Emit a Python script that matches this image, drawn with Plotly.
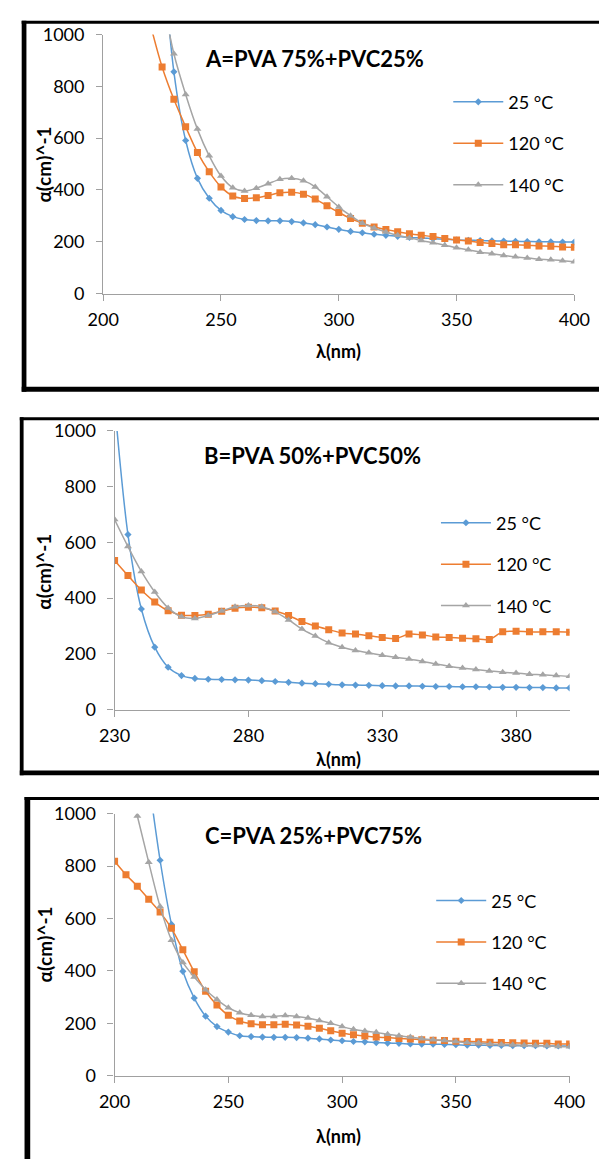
import plotly.graph_objects as go

W, H = 615, 1169


def px(x):
    return x / W


def py(y):
    return 1 - y / H


# ---------------- Panel A: PVA 75% + PVC 25% ----------------
wl_a = [225, 230, 235, 240, 245, 250, 255, 260, 265, 270, 275, 280, 285, 290, 295,
        300, 305, 310, 315, 320, 325, 330, 335, 340, 345, 350, 355, 360, 365, 370,
        375, 380, 385, 390, 395, 400]
wl_a_120 = [220] + wl_a
a_25 = [1350, 856, 591, 445, 368, 321, 297, 286, 282, 281, 281, 278, 273, 266, 257,
        248, 240, 235, 229, 225, 221, 217, 215, 212, 210, 207, 206, 205, 204, 203,
        202, 201, 200, 200, 199, 199]
a_120 = [1040, 875, 750, 644, 545, 470, 412, 377, 367, 370, 379, 389, 391, 384, 365,
         339, 313, 290, 272, 257, 247, 239, 231, 225, 220, 213, 207, 203, 197, 193,
         189, 189, 187, 184, 183, 180, 179]
a_140 = [1150, 926, 769, 635, 532, 454, 409, 396, 407, 424, 441, 445, 436, 412, 374,
         334, 301, 272, 253, 238, 225, 215, 205, 196, 187, 177, 169, 160, 154, 147,
         142, 137, 133, 131, 127, 123]

# ---------------- Panel B: PVA 50% + PVC 50% ----------------
wl_b = [230, 235, 240, 245, 250, 255, 260, 265, 270, 275, 280, 285, 290, 295, 300,
        305, 310, 315, 320, 325, 330, 335, 340, 345, 350, 355, 360, 365, 370, 375,
        380, 385, 390, 395, 400]
b_25 = [1100, 628, 361, 224, 152, 122, 112, 109, 108, 107, 106, 104, 101, 98, 95,
        93, 91, 89, 88, 87, 86, 85, 85, 84, 83, 83, 82, 82, 81, 80,
        80, 79, 79, 78, 78]
b_120 = [535, 481, 429, 386, 355, 339, 338, 342, 353, 364, 367, 366, 354, 338, 316,
         300, 287, 275, 271, 265, 259, 255, 271, 268, 261, 259, 256, 254, 252, 279,
         281, 279, 279, 279, 278]
b_140 = [682, 585, 496, 422, 365, 333, 327, 338, 354, 369, 374, 369, 351, 322, 289,
         264, 240, 224, 212, 204, 195, 188, 182, 173, 164, 156, 149, 144, 139, 134,
         131, 127, 125, 122, 120]

# ---------------- Panel C: PVA 25% + PVC 75% ----------------
wl_c = [200, 205, 210, 215, 220, 225, 230, 235, 240, 245, 250, 255, 260, 265, 270,
        275, 280, 285, 290, 295, 300, 305, 310, 315, 320, 325, 330, 335, 340, 345,
        350, 355, 360, 365, 370, 375, 380, 385, 390, 395, 400]
c_120 = [818, 767, 723, 673, 624, 562, 480, 396, 322, 269, 230, 208, 198, 194, 194,
         196, 193, 188, 181, 171, 162, 156, 151, 147, 145, 142, 140, 137, 135, 134,
         131, 130, 129, 127, 126, 125, 124, 123, 123, 121, 121]
c_25 = [1130, 822, 577, 398, 296, 227, 187, 166, 152, 149, 147, 146, 146, 145, 143,
        140, 136, 133, 130, 129, 126, 124, 123, 121, 120, 120, 119, 118, 116, 116,
        115, 115, 114, 114, 114, 113, 113, 113]
c_140 = [991, 814, 645, 517, 432, 376, 328, 290, 259, 240, 230, 226, 226, 229, 226,
         220, 210, 200, 187, 177, 170, 165, 158, 152, 147, 141, 137, 134, 130, 126,
         124, 121, 119, 118, 116, 115, 114, 111, 110]

titles = ["A=PVA 75%+PVC25%", "B=PVA 50%+PVC50%", "C=PVA 25%+PVC75%"]
series_names = ["25 °C", "120 °C", "140 °C"]
y_ticks = [0, 200, 400, 600, 800, 1000]

BLUE, ORANGE, GRAY = "#5B9BD5", "#ED7D31", "#A5A5A5"
FONT = "Lato"

panels = [
    dict(series=[(wl_a, a_25), (wl_a_120, a_120), (wl_a, a_140)],
         xr=[200, 400], tick0=200,
         xpx=(92, 589), ypx=(23, 287),
         title_xy=(315, 47), xt_xy=(340, 345), yt_xy=(29, 155),
         leg_xy=(456, 73)),
    dict(series=[(wl_b, b_25), (wl_b, b_120), (wl_b, b_140)],
         xr=[230, 400], tick0=230,
         xpx=(104, 584), ypx=(427, 711),
         title_xy=(313, 452), xt_xy=(340, 761), yt_xy=(29, 570),
         leg_xy=(443, 502)),
    dict(series=[(wl_c[3:], c_25), (wl_c, c_120), (wl_c[2:], c_140)],
         xr=[200, 400], tick0=200,
         xpx=(104, 584), ypx=(817, 1084),
         title_xy=(314, 839), xt_xy=(340, 1146), yt_xy=(30, 950),
         leg_xy=(438, 887)),
]

styles = [
    dict(color=BLUE, symbol="diamond", size=5.5),
    dict(color=ORANGE, symbol="square", size=7),
    dict(color=GRAY, symbol="triangle-up", size=7),
]

fig = go.Figure()
layout = dict(
    width=W, height=H,
    margin=dict(l=0, r=0, t=0, b=0),
    paper_bgcolor="white", plot_bgcolor="white",
    font=dict(family=FONT, color="#000000"),
    annotations=[], shapes=[],
)

for i, p in enumerate(panels):
    sfx = "" if i == 0 else str(i + 1)
    xa, ya = "x" + sfx, "y" + sfx
    leg = "legend" if i == 0 else "legend" + str(i + 1)
    for j, (xs, ys) in enumerate(p["series"]):
        st = styles[j]
        fig.add_trace(go.Scatter(
            x=xs, y=ys, xaxis=xa, yaxis=ya, name=series_names[j],
            mode="lines+markers",
            line=dict(color=st["color"], width=1.5, shape="spline", smoothing=0.9),
            marker=dict(color=st["color"], symbol=st["symbol"], size=st["size"]),
            legend=leg, legendgroup=f"g{i}{j}",
        ))
    axis_common = dict(showgrid=False, zeroline=False, showline=True,
                       linecolor="#A0A0A0", linewidth=1.3,
                       ticks="outside", ticklen=6, tickcolor="#A0A0A0", tickwidth=1.3,
                       tickfont=dict(family=FONT, size=18, color="#000000"))
    layout["xaxis" + sfx] = dict(
        axis_common, range=p["xr"], tick0=p["tick0"], dtick=50,
        domain=[px(p["xpx"][0]), px(p["xpx"][1])], anchor=ya,
        ticklabelstandoff=4,
    )
    layout["yaxis" + sfx] = dict(
        axis_common, range=[0, 1000], tickvals=y_ticks,
        domain=[py(p["ypx"][1]), py(p["ypx"][0])], anchor=xa,
        ticklabelstandoff=8,
    )
    layout[leg] = dict(
        x=px(p["leg_xy"][0]), y=py(p["leg_xy"][1]), xanchor="left", yanchor="top",
        font=dict(family=FONT, size=18, color="#000000"),
        bgcolor="rgba(0,0,0,0)", tracegroupgap=15, itemwidth=50,
    )
    layout["annotations"] += [
        dict(text="<b>" + titles[i] + "</b>", x=px(p["title_xy"][0]), y=py(p["title_xy"][1]),
             xref="paper", yref="paper", showarrow=False, xanchor="center", yanchor="middle",
             font=dict(family=FONT, size=22, color="#000000")),
        dict(text="<b>λ(nm)</b>", x=px(p["xt_xy"][0]), y=py(p["xt_xy"][1]),
             xref="paper", yref="paper", showarrow=False, xanchor="center", yanchor="middle",
             font=dict(family=FONT, size=18, color="#000000")),
        dict(text="<b>α(cm)^-1</b>", x=px(p["yt_xy"][0]), y=py(p["yt_xy"][1]),
             xref="paper", yref="paper", showarrow=False, xanchor="center", yanchor="middle",
             textangle=-90, font=dict(family=FONT, size=19, color="#000000")),
    ]

# panel frames (thin top, thicker left/bottom); they run off the right/bottom edge
frames = [
    dict(left=(6, 11), top=(9, 12), bottom=(382, 387)),
    dict(left=(4, 8), top=(413, 416), bottom=(773, 778)),
    dict(left=(9, 15), top=(800, 803), bottom=None),
]
for f in frames:
    bottom_edge = f["bottom"][1] if f["bottom"] else H
    rects = [
        (f["left"][0], f["top"][0], f["left"][1], bottom_edge),
        (f["left"][0], f["top"][0], W, f["top"][1]),
    ]
    if f["bottom"]:
        rects.append((f["left"][0], f["bottom"][0], W, f["bottom"][1]))
    for x0, y0, x1, y1 in rects:
        layout["shapes"].append(dict(
            type="rect", xref="paper", yref="paper",
            x0=px(x0), x1=px(x1), y0=py(y1), y1=py(y0),
            fillcolor="#000000", line=dict(width=0), layer="above"))

fig.update_layout(**layout)
fig.write_html(
    "out.html",
    config={"displayModeBar": False},
    post_script="document.body.style.margin='0';document.body.style.overflow='hidden';",
)
